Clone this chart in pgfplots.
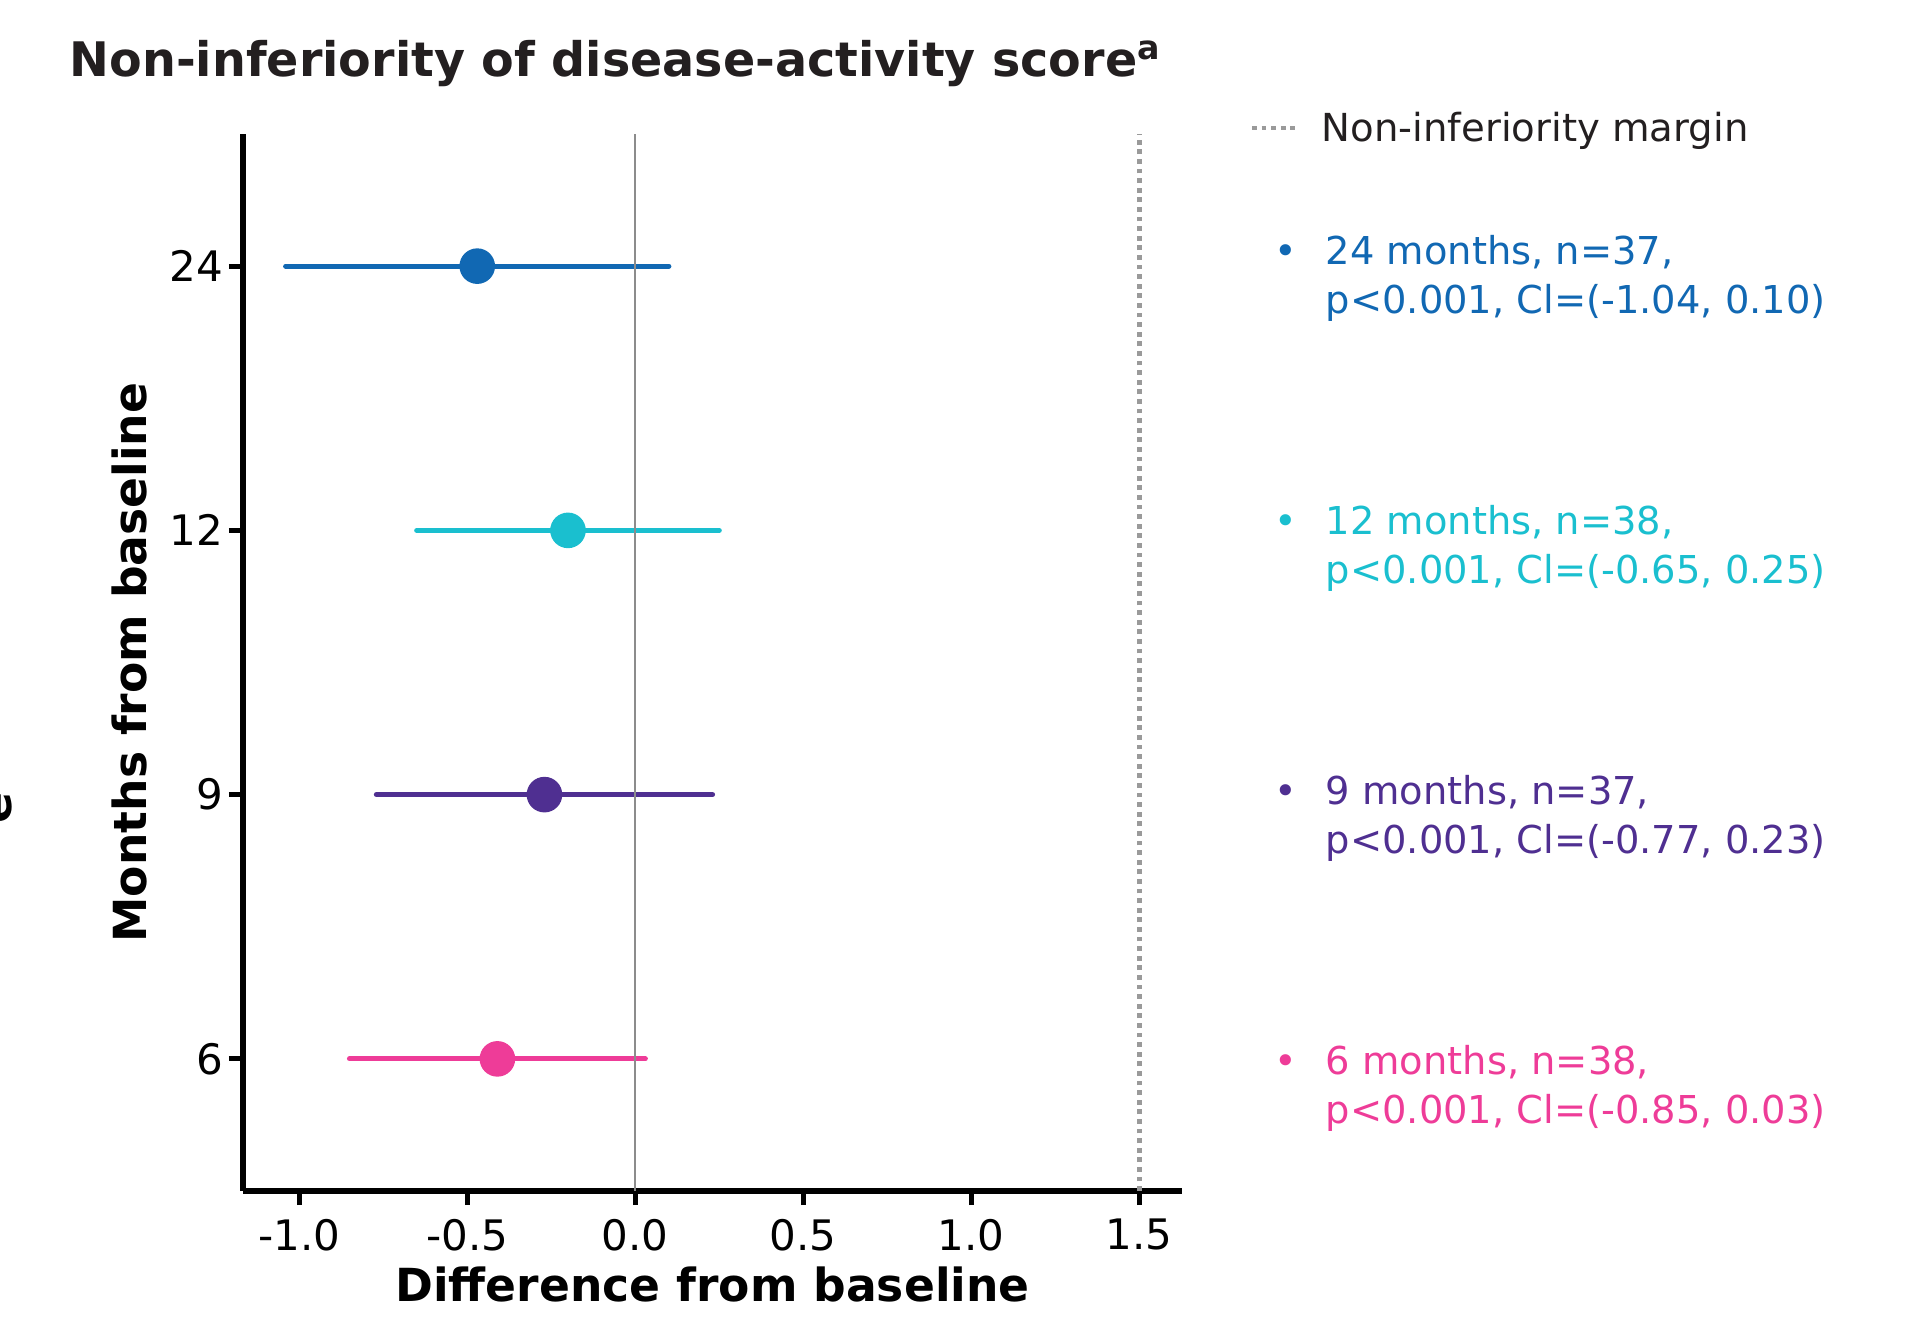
\documentclass[border=0pt]{standalone}
\usepackage{pgfplots}
\pgfplotsset{compat=1.18}
\usepackage{fontspec}
\setmainfont{DejaVu Sans}
\definecolor{c24}{HTML}{1168B3}
\definecolor{c12}{HTML}{1ABFCF}
\definecolor{c9}{HTML}{4F2F91}
\definecolor{c6}{HTML}{EE3C98}
\definecolor{zerogray}{HTML}{8C8C8C}
\definecolor{dotgray}{HTML}{9A9A9A}
\definecolor{txt}{HTML}{231F20}
\begin{document}
\begin{tikzpicture}
\useasboundingbox (-60.75pt,-31.5pt) rectangle (415.75pt,297.75pt);
\begin{axis}[
  at={(0,0)}, anchor=south west,
  scale only axis, width=234.75pt, height=264.25pt,
  xmin=-1.167, xmax=1.627, ymin=0.5, ymax=4.5,
  axis lines*=left,
  axis line style={line width=1.3pt, black, -},
  xtick={-1,-0.5,0,0.5,1,1.5},
  xticklabels={-1.0,-0.5,0.0,0.5,1.0,1.5},
  ytick={1,2,3,4}, yticklabels={6,9,12,24},
  tick align=outside, major tick length=3.5pt,
  tick style={line width=1.3pt, black},
  ticklabel style={font=\fontsize{10.5}{12}\selectfont, text=black},
  yticklabel style={xshift=2pt},
  clip=false,
]
% confidence intervals
\addplot[c6, line width=1.3pt, line cap=round] coordinates {(-0.85,1) (0.03,1)};
\addplot[c9, line width=1.3pt, line cap=round] coordinates {(-0.77,2) (0.23,2)};
\addplot[c12, line width=1.3pt, line cap=round] coordinates {(-0.65,3) (0.25,3)};
\addplot[c24, line width=1.3pt, line cap=round] coordinates {(-1.04,4) (0.10,4)};
% reference lines
\addplot[zerogray, line width=0.55pt] coordinates {(0,0.5) (0,4.5)};
\addplot[dotgray, line width=1.2pt, dash pattern=on 1.2pt off 1.2pt] coordinates {(1.5,0.5) (1.5,4.5)};
% point estimates
\addplot[only marks, mark=*, mark size=4.25pt, c6, mark options={draw=c6, fill=c6}] coordinates {(-0.41,1)};
\addplot[only marks, mark=*, mark size=4.25pt, c9, mark options={draw=c9, fill=c9}] coordinates {(-0.27,2)};
\addplot[only marks, mark=*, mark size=4.25pt, c12, mark options={draw=c12, fill=c12}] coordinates {(-0.20,3)};
\addplot[only marks, mark=*, mark size=4.25pt, c24, mark options={draw=c24, fill=c24}] coordinates {(-0.47,4)};
\end{axis}
% title
\node[anchor=base west, inner sep=0, text=txt, font=\bfseries\fontsize{11.9}{14}\selectfont] at (-43.5pt,278.6pt) {Non-inferiority of disease-activity score\textsuperscript{a}};
% axis labels
\node[anchor=base, inner sep=0, text=black, font=\bfseries\fontsize{11.4}{13}\selectfont] at (117.4pt,-27.5pt) {Difference from baseline};
\node[anchor=base, rotate=90, inner sep=0, text=black, font=\bfseries\fontsize{11.4}{13}\selectfont] at (-24.25pt,132.1pt) {Months from baseline};
% outer label, cut off at the left edge as in the reference
\node[anchor=base, rotate=90, inner sep=0, text=black, font=\bfseries\fontsize{11.4}{13}\selectfont] at (-57.75pt,95.75pt) {e};
% legend
\draw[dotgray, line width=1.2pt, dash pattern=on 1.2pt off 1.2pt] (252.25pt,265.75pt) -- (263.75pt,265.75pt);
\node[anchor=base west, inner sep=0, text=txt, font=\fontsize{9.65}{12}\selectfont] at (269.5pt,262.25pt) {Non-inferiority margin};
\begin{scope}[every node/.style={inner sep=0, font=\fontsize{9.6}{12}\selectfont}]
\node[anchor=base, text=c24] at (260.75pt,231.5pt) {•};
\node[anchor=base west, text=c24] at (270.5pt,231.5pt) {24 months, n=37,};
\node[anchor=base west, text=c24] at (270.5pt,219.35pt) {p<0.001, Cl=(-1.04, 0.10)};
\node[anchor=base, text=c12] at (260.75pt,164.0pt) {•};
\node[anchor=base west, text=c12] at (270.5pt,164.0pt) {12 months, n=38,};
\node[anchor=base west, text=c12] at (270.5pt,151.85pt) {p<0.001, Cl=(-0.65, 0.25)};
\node[anchor=base, text=c9] at (260.75pt,96.6pt) {•};
\node[anchor=base west, text=c9] at (270.5pt,96.6pt) {9 months, n=37,};
\node[anchor=base west, text=c9] at (270.5pt,84.45pt) {p<0.001, Cl=(-0.77, 0.23)};
\node[anchor=base, text=c6] at (260.75pt,29.1pt) {•};
\node[anchor=base west, text=c6] at (270.5pt,29.1pt) {6 months, n=38,};
\node[anchor=base west, text=c6] at (270.5pt,16.95pt) {p<0.001, Cl=(-0.85, 0.03)};
\end{scope}
\end{tikzpicture}
\end{document}
